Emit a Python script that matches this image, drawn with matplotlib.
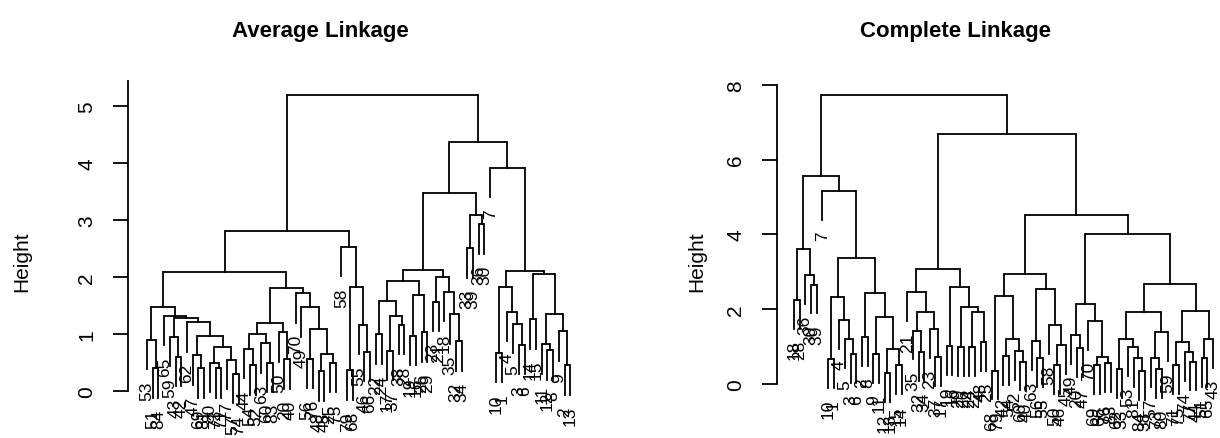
import matplotlib
matplotlib.use("Agg")
import matplotlib.pyplot as plt
import numpy as np

plt.rcParams['font.family'] = ['Liberation Sans', 'DejaVu Sans']

W, H = 1220, 439

# Leaf order (left to right) and merge height between each pair of neighbouring leaves
avg_labels = [53, 51, 84, 65, 59, 43, 42, 62, 47, 69, 81, 80, 73, 71, 77, 57, 74,
              44, 54, 52, 63, 60, 83, 50, 20, 40, 70, 49, 56, 76, 48, 45, 25, 75,
              58,
              79, 68, 55, 46, 66,
              22, 24, 17, 37, 38, 28, 19, 16, 26, 29, 23, 21, 18, 35, 32, 34,
              33, 39, 36, 30,
              7,
              10, 1, 4, 5, 3, 6, 14, 15, 11, 12, 8, 9, 2, 13]
avg_gaps = [0.90, 0.40, 1.47, 1.32, 0.95, 0.60, 1.28, 1.21, 0.63, 0.40, 0.97, 0.50, 0.40, 0.77, 0.55, 0.30,
            2.08,
            0.74, 0.45, 1.00, 0.84, 0.50, 1.20, 1.03, 0.56, 1.80, 1.72, 1.47, 0.57, 1.09, 0.35, 0.65, 0.50,
            2.80, 2.53,
            0.36, 1.82, 1.16, 0.69,
            5.19,
            1.00, 1.58, 0.71, 1.31, 1.16, 1.93, 0.97, 1.68, 1.03, 2.13, 1.57, 2.00, 1.74, 1.35, 0.87,
            3.48,
            2.51, 3.08, 2.93,
            4.37, 3.92,
            0.67, 1.82, 1.39, 1.18, 0.81, 2.11, 1.26, 2.05, 0.82, 0.72, 1.35, 1.05, 0.45]

comp_labels = [18, 28, 36, 30, 39,
               7,
               10, 1, 4, 5, 3, 6, 2, 8, 9, 11, 12, 13, 15, 14,
               21, 35, 32, 34, 23, 37, 17, 19, 16, 29, 26, 24, 22, 48, 25,
               68, 79, 42, 54, 52, 60, 40, 63, 56, 55, 58, 50, 46, 45,
               49, 20, 47, 70, 69, 66, 76, 83, 62, 33, 53, 81, 84, 38, 57, 73, 80, 59,
               71, 75, 74, 77, 44, 51, 65, 43]
comp_gaps = [2.25, 3.60, 2.92, 2.66,
             5.55, 5.17,
             0.67, 2.33, 1.72, 1.20, 0.80, 3.37, 1.25, 2.43, 0.80, 1.78, 0.30, 0.94, 0.50,
             7.73,
             2.45, 1.43, 0.85, 1.92, 1.47, 0.72, 3.07, 1.02, 2.59, 0.98, 2.05, 0.98, 1.93, 1.13,
             6.68,
             0.36, 2.36, 0.74, 1.20, 0.89, 0.60, 2.94, 1.16, 0.70, 2.54, 1.58, 0.50, 1.04,
             4.53,
             1.31, 0.97, 2.14, 1.69, 0.50, 0.71, 0.55, 4.01, 0.40, 1.19, 0.99, 0.70, 0.35,
             1.92, 0.70, 0.40, 1.38, 2.67, 0.50, 1.11, 0.85, 0.60, 1.94, 0.70, 1.20]


def build(gaps, lo, hi):
    if lo == hi:
        return {'x': lo + 1, 'leaf': lo}
    k = lo + int(np.argmax(gaps[lo:hi]))
    left = build(gaps, lo, k)
    right = build(gaps, k + 1, hi)
    return {'x': (left['x'] + right['x']) / 2, 'h': gaps[k], 'kids': (left, right)}


def draw(ax, node, labels, hang):
    h = node['h']
    left, right = node['kids']
    ax.plot([left['x'], right['x']], [h, h], color='black', lw=1.3, solid_capstyle='butt')
    for kid in node['kids']:
        if 'leaf' in kid:
            y_end = h - hang
            ax.plot([kid['x'], kid['x']], [h, y_end], color='black', lw=1.3)
            ax.annotate(str(labels[kid['leaf']]), (kid['x'], y_end), xytext=(0, -8),
                        textcoords='offset points', rotation=90, ha='center', va='top',
                        fontsize=12.5, annotation_clip=False)
        else:
            ax.plot([kid['x'], kid['x']], [h, kid['h']], color='black', lw=1.3)
            draw(ax, kid, labels, hang)


def place(ax, xlim, ylim, px1, dx, py0, dy):
    left = px1 + (xlim[0] - 1) * dx
    right = px1 + (xlim[1] - 1) * dx
    bottom = py0 - ylim[0] * dy
    top = py0 - ylim[1] * dy
    ax.set_position([left / W, 1 - bottom / H, (right - left) / W, (bottom - top) / H])
    ax.set_xlim(xlim)
    ax.set_ylim(ylim)


def panel(ax, labels, gaps, ticks, spine_top):
    tree = build(gaps, 0, len(labels) - 1)
    hang = 0.1 * max(gaps)
    draw(ax, tree, labels, hang)
    for s in ['top', 'right', 'bottom']:
        ax.spines[s].set_visible(False)
    ax.spines['left'].set_bounds(0, spine_top)
    ax.spines['left'].set_linewidth(1.3)
    ax.set_xticks([])
    ax.set_yticks(ticks)
    ax.tick_params(axis='y', length=10.8, width=1.3, pad=12, labelsize=15, labelrotation=90)
    for t in ax.get_yticklabels():
        t.set_va('center')


fig = plt.figure(figsize=(W / 100, H / 100), dpi=100)

ax1 = fig.add_axes([0, 0, 1, 1])
place(ax1, (-2.32, 78), (-0.8, 5.43), 147, 5.72, 392, 57)
panel(ax1, avg_labels, avg_gaps, [0, 1, 2, 3, 4, 5], 5.43)

ax2 = fig.add_axes([0, 0, 1, 1])
place(ax2, (-2.0, 76.5), (-1.4, 8.04), 794, 5.66, 385, 37.4)
panel(ax2, comp_labels, comp_gaps, [0, 2, 4, 6, 8], 8)

fig.text(320 / W, 1 - 31 / H, 'Average Linkage', fontsize=16, fontweight='bold', ha='center', va='center')
fig.text(956 / W, 1 - 31 / H, 'Complete Linkage', fontsize=16, fontweight='bold', ha='center', va='center')
fig.text(22 / W, 1 - 262 / H, 'Height', rotation=90, fontsize=15, ha='center', va='center')
fig.text(697 / W, 1 - 262 / H, 'Height', rotation=90, fontsize=15, ha='center', va='center')

fig.savefig('out.png', dpi=100)
